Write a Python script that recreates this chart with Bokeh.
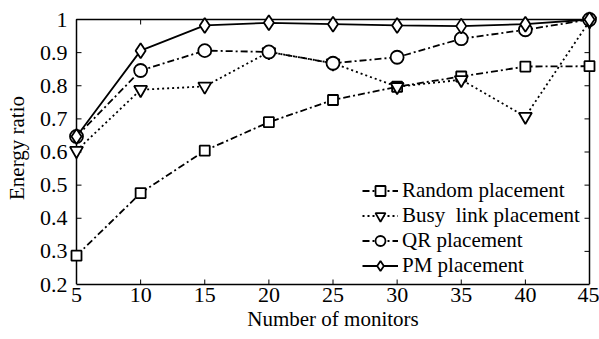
from bokeh.plotting import figure
from bokeh.models import FixedTicker, CustomJSTickFormatter, Legend, LegendItem, Range1d
from bokeh.embed import file_html
from bokeh.resources import INLINE

# Number of monitors placed
monitors = [5, 10, 15, 20, 25, 30, 35, 40, 45]

# Energy ratio per placement strategy
random_placement = [0.287, 0.476, 0.604, 0.690, 0.757, 0.797, 0.828, 0.858, 0.859]
busy_link_placement = [0.604, 0.788, 0.798, 0.902, 0.868, 0.797, 0.818, 0.707, 0.995]
qr_placement = [0.647, 0.846, 0.906, 0.902, 0.868, 0.886, 0.942, 0.969, 1.0]
pm_placement = [0.647, 0.906, 0.982, 0.990, 0.986, 0.982, 0.980, 0.986, 1.0]

x_ticks = [5, 10, 15, 20, 25, 30, 35, 40, 45]
y_ticks = [0.2, 0.3, 0.4, 0.5, 0.6, 0.7, 0.8, 0.9, 1.0]

FONT = "Liberation Serif"

X0, X1 = 5, 45
Y0, Y1 = 0.2, 1.0
BOX_W, BOX_H = 513, 265          # axes box in px
PAD = 8                          # room so edge markers are not clipped
TICK = 5                         # inward tick length in px

px_x = BOX_W / (X1 - X0)
px_y = BOX_H / (Y1 - Y0)
dx_pad, dy_pad = PAD / px_x, PAD / px_y
dx_tick, dy_tick = TICK / px_x, TICK / px_y

# The bottom of the frame is the bottom of the box; the other sides get padding
p = figure(frame_width=BOX_W + 2 * PAD, frame_height=BOX_H + PAD,
           output_backend="svg", toolbar_location=None,
           x_range=Range1d(X0 - dx_pad, X1 + dx_pad),
           y_range=Range1d(Y0, Y1 + dy_pad),
           min_border_left=68, min_border_right=2, min_border_top=11,
           min_border_bottom=55)
p.xgrid.visible = False
p.ygrid.visible = False
p.outline_line_color = None
p.background_fill_color = "white"
p.border_fill_color = "white"

for ax in p.xaxis:
    ax.ticker = FixedTicker(ticks=x_ticks)
    ax.bounds = (X0, X1)
    ax.axis_label = "Number of monitors"
    ax.axis_line_color = "black"
    ax.axis_line_width = 1.5
    ax.major_label_standoff = 3
    ax.axis_label_standoff = 2
for ax in p.yaxis:
    ax.ticker = FixedTicker(ticks=y_ticks)
    ax.formatter = CustomJSTickFormatter(
        code="return tick >= 0.999 ? '1' : tick.toFixed(1);")
    ax.axis_label = "Energy ratio"
    ax.axis_line_color = None
    ax.major_label_standoff = 1
    ax.axis_label_standoff = 8

for ax in p.xaxis + p.yaxis:
    ax.major_tick_line_color = None
    ax.major_tick_in = 0
    ax.major_tick_out = 0
    ax.minor_tick_line_color = None
    ax.major_label_text_font = FONT
    ax.major_label_text_font_size = "22px"
    ax.major_label_text_color = "black"
    ax.axis_label_text_font = FONT
    ax.axis_label_text_font_size = "21px"
    ax.axis_label_text_font_style = "normal"
    ax.axis_label_text_color = "black"

# Axes box on the data limits (left, top, right sides)
p.line(x=[X0, X0, X1, X1], y=[Y0, Y1, Y1, Y0], line_color="black", line_width=1.5)

# Inward ticks on all four sides
inner_x = x_ticks[1:-1]
inner_y = y_ticks[1:-1]
p.segment(x0=inner_x, y0=[Y0] * len(inner_x), x1=inner_x,
          y1=[Y0 + dy_tick] * len(inner_x), line_color="black", line_width=1)
p.segment(x0=inner_x, y0=[Y1] * len(inner_x), x1=inner_x,
          y1=[Y1 - dy_tick] * len(inner_x), line_color="black", line_width=1)
p.segment(x0=[X0] * len(inner_y), y0=inner_y, x1=[X0 + dx_tick] * len(inner_y),
          y1=inner_y, line_color="black", line_width=1)
p.segment(x0=[X1] * len(inner_y), y0=inner_y, x1=[X1 - dx_tick] * len(inner_y),
          y1=inner_y, line_color="black", line_width=1)

series = [
    ("Random placement", random_placement, "7 3 2 3", "square", 10),
    ("Busy  link placement", busy_link_placement, "2 3", "inverted_triangle", 13),
    ("QR placement", qr_placement, "7 3 2 3", "circle", 13),
    ("PM placement", pm_placement, "solid", "diamond", 15),
]

items = []
for label, ys, dash, marker, size in series:
    ln = p.line(monitors, ys, line_color="black", line_width=1.8, line_dash=dash)
    sc = p.scatter(monitors, ys, marker=marker, size=size, fill_color="white",
                   line_color="black", line_width=1.8)
    items.append(LegendItem(label=label, renderers=[ln, sc]))

legend = Legend(items=items, location=(294, 6), background_fill_alpha=0,
                border_line_color=None, label_text_font=FONT,
                label_text_font_size="21px", label_text_color="black",
                glyph_width=36, glyph_height=25, label_height=24,
                label_standoff=4, spacing=0, padding=0, margin=0)
p.add_layout(legend, "center")

open("out.html", "w").write(file_html(p, INLINE))
